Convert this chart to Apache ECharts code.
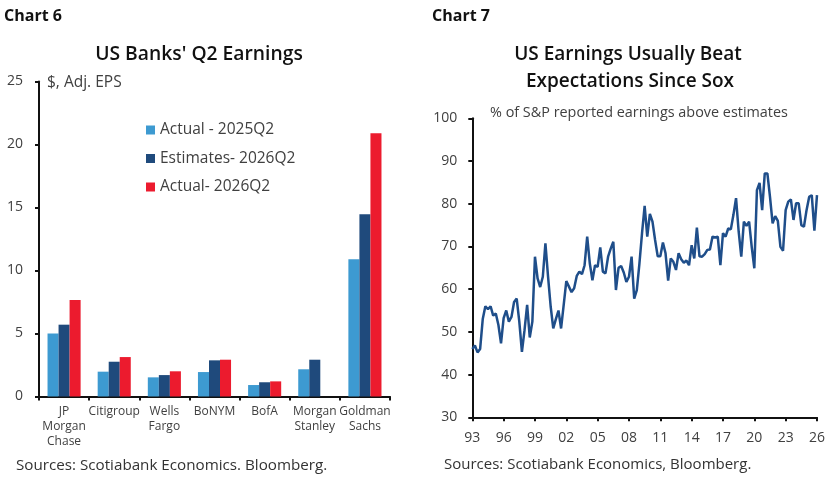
<!DOCTYPE html>
<html>
<head>
<meta charset="utf-8">
<script src="https://cdn.jsdelivr.net/npm/echarts@6/dist/echarts.min.js"></script>
<style>
  html, body { margin: 0; padding: 0; background: #fff; }
  #main { width: 828px; height: 482px; }
</style>
</head>
<body>
<div id="main"></div>
<script>
// Chart 6 data
const banks = ['JP\nMorgan\nChase', 'Citigroup', 'Wells\nFargo', 'BoNYM', 'BofA', 'Morgan\nStanley', 'Goldman\nSachs'];
const actual2025 = [5.0, 1.97, 1.52, 1.94, 0.91, 2.16, 10.9];
const estimates2026 = [5.7, 2.76, 1.7, 2.87, 1.13, 2.92, 14.46];
const actual2026 = [7.66, 3.13, 2.0, 2.92, 1.2, null, 20.9];

// Chart 7 data, quarterly from 1993Q1
const beatStartYear = 1993;
const beatPct = [
  46, 46.8, 45.2, 46, 53, 56, 55.3, 56, 53.8, 54.3, 51.6, 47.3,
  53.2, 55, 52.4, 53.5, 57, 57.8, 52.4, 45.3, 50.4, 56.3, 48.7, 52.4,
  67.6, 62.5, 60.5, 62.9, 70.7, 63, 56, 50.8, 53, 55, 50.8, 56.3,
  61.9, 60.6, 59.3, 60.2, 63.1, 64.1, 63.5, 65.6, 72.3, 66, 62.1, 65.6,
  65.2, 69.8, 64.1, 63.7, 67.6, 69.5, 71.1, 59.8, 65, 65.4, 63.9, 61.7,
  62.9, 67.6, 57.8, 59.8, 66, 73.1, 79.5, 72.3, 77.6, 75.8, 71.5, 67.7,
  67.7, 70.9, 68.4, 62, 67.2, 66.4, 64.5, 68.4, 67, 66.2, 66.7, 65.6,
  70.3, 67.2, 74.4, 67.7, 67.6, 68.2, 69.2, 69.3, 72.3, 72.1, 72.3, 65.6,
  73.1, 72.3, 74.2, 74, 77.4, 81.3, 73.5, 67.6, 75.8, 74.8, 75.8, 69.9,
  64.9, 83.2, 84.9, 78.5, 87.1, 87.1, 81.6, 75.4, 77.1, 76, 69.9, 69,
  78.5, 80.5, 81, 76.2, 80.1, 80.1, 75, 74.6, 78.5, 81.6, 82, 73.7,
  82
];
const yearTicks = { min: 1993, max: 2026, step: 3 };

const FONT = '"Open Sans", "Noto Sans", sans-serif';
const TXT = '#404040';

let myChart = echarts.init(document.getElementById('main'), null, { renderer: 'canvas' });

const beatData = beatPct.map((v, i) => [beatStartYear + i / 4, v]);

function txt(x, y, text, size, weight, align, color) {
  return {
    type: 'text', x: x, y: y,
    style: {
      text: text, font: (weight || 'normal') + ' ' + size + 'px ' + FONT,
      fill: color || TXT, textAlign: align || 'left', textVerticalAlign: 'middle'
    }
  };
}

option = {
  animation: false,
  textStyle: { fontFamily: FONT },
  graphic: [
    txt(4, 16, 'Chart 6', 16, 'bold', 'left', '#111'),
    txt(199, 55, "US Banks' Q2 Earnings", 19.3, '600', 'center', '#111'),
    txt(47, 83, '$, Adj. EPS', 15.5, 'normal', 'left', TXT),
    txt(16, 466, 'Sources: Scotiabank Economics. Bloomberg.', 15.2, 'normal', 'left', '#333'),
    txt(432, 16, 'Chart 7', 16, 'bold', 'left', '#111'),
    txt(628, 55, 'US Earnings Usually Beat', 19, '600', 'center', '#111'),
    txt(630, 82, 'Expectations Since Sox', 19, '600', 'center', '#111'),
    txt(490, 113, '% of S&P reported earnings above estimates', 14.4, 'normal', 'left', TXT),
    txt(444, 465, 'Sources: Scotiabank Economics, Bloomberg.', 15, 'normal', 'left', '#333')
  ],
  legend: {
    orient: 'vertical', left: 141, top: 117, itemGap: 12.5,
    itemWidth: 9, itemHeight: 9, icon: 'rect',
    textStyle: { fontSize: 15.5, color: TXT, fontFamily: FONT },
    data: ['Actual - 2025Q2', 'Estimates- 2026Q2', 'Actual- 2026Q2']
  },
  grid: [
    { left: 39, top: 81.5, width: 351, height: 315 },
    { left: 472.3, top: 118.3, width: 349.4, height: 299 }
  ],
  xAxis: [
    {
      type: 'category', gridIndex: 0, data: banks,
      axisLine: { lineStyle: { color: '#111', width: 2 } },
      axisTick: { show: true, length: 4, lineStyle: { color: '#111', width: 2 } },
      axisLabel: { interval: 0, fontSize: 12, color: TXT, lineHeight: 15, margin: 8 }
    },
    {
      type: 'value', gridIndex: 1, min: yearTicks.min, max: yearTicks.max, interval: yearTicks.step,
      splitLine: { show: false },
      axisLine: { lineStyle: { color: '#111', width: 2 } },
      axisTick: { show: true, length: 4, lineStyle: { color: '#111', width: 2 } },
      axisLabel: {
        fontSize: 14, color: TXT, margin: 14,
        formatter: v => String(v % 100).padStart(2, '0')
      }
    }
  ],
  yAxis: [
    {
      type: 'value', gridIndex: 0, min: 0, max: 25, interval: 5,
      splitLine: { show: false },
      axisLine: { show: true, lineStyle: { color: '#111', width: 2 } },
      axisTick: { show: true, length: 4, lineStyle: { color: '#111', width: 2 } },
      axisLabel: { fontSize: 14, color: TXT, margin: 16 }
    },
    {
      type: 'value', gridIndex: 1, min: 30, max: 100, interval: 10,
      splitLine: { show: false },
      axisLine: { show: true, lineStyle: { color: '#111', width: 2 } },
      axisTick: { show: true, length: 4, lineStyle: { color: '#111', width: 2 } },
      axisLabel: { fontSize: 14, color: TXT, margin: 15 }
    }
  ],
  series: [
    {
      name: 'Actual - 2025Q2', type: 'bar', xAxisIndex: 0, yAxisIndex: 0,
      data: actual2025, itemStyle: { color: '#3D9AD1' },
      barGap: '0%', barCategoryGap: '34%'
    },
    {
      name: 'Estimates- 2026Q2', type: 'bar', xAxisIndex: 0, yAxisIndex: 0,
      data: estimates2026, itemStyle: { color: '#1F4A7C' }
    },
    {
      name: 'Actual- 2026Q2', type: 'bar', xAxisIndex: 0, yAxisIndex: 0,
      data: actual2026, itemStyle: { color: '#EC1B2E' }
    },
    {
      name: 'Beat', type: 'line', xAxisIndex: 1, yAxisIndex: 1,
      data: beatData, showSymbol: false,
      lineStyle: { color: '#1F4E8A', width: 2.5 }, itemStyle: { color: '#1F4E8A' }
    }
  ]
};
myChart.setOption(option);
</script>
</body>
</html>
